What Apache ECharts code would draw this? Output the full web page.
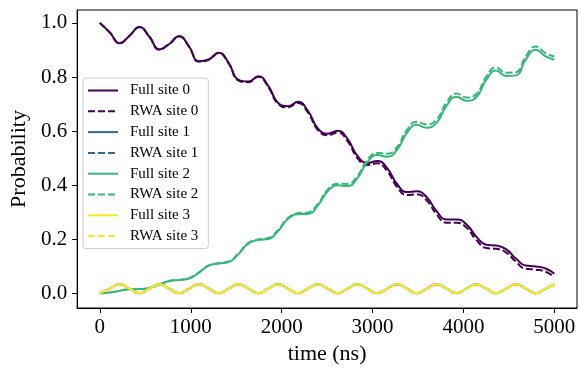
<!DOCTYPE html>
<html><head><meta charset="utf-8">
<script src="https://cdn.jsdelivr.net/npm/echarts@6/dist/echarts.min.js"></script>
<style>html,body{margin:0;padding:0;background:#fff}#c{width:580px;height:370px}</style>
</head><body><div id="c"></div>
<script>
const times = [0,109,218,327,436,545,654,763,872,981,1090,1199,1308,1417,1526,1635,1744,1853,1962,2071,2180,2289,2398,2507,2616,2725,2834,2943,3052,3161,3270,3379,3488,3597,3706,3815,3924,4033,4142,4251,4360,4469,4578,4687,4796,4905,5000];

const fullSite0 = [1.000,0.965,0.925,0.953,0.985,0.949,0.902,0.922,0.951,0.913,0.858,0.865,0.890,0.852,0.789,0.783,0.803,0.767,0.704,0.692,0.708,0.675,0.610,0.590,0.601,0.571,0.508,0.482,0.489,0.463,0.404,0.374,0.377,0.355,0.303,0.273,0.273,0.255,0.209,0.179,0.176,0.163,0.128,0.102,0.099,0.091,0.072];
const rwaSite0 = [1.000,0.965,0.925,0.953,0.985,0.949,0.902,0.922,0.951,0.912,0.857,0.864,0.889,0.850,0.787,0.781,0.801,0.763,0.700,0.688,0.704,0.669,0.604,0.584,0.595,0.563,0.500,0.474,0.481,0.452,0.393,0.363,0.366,0.343,0.291,0.261,0.261,0.243,0.197,0.167,0.164,0.151,0.116,0.090,0.087,0.079,0.060];

const fullSite1 = [0,0.0165,0.033,0.0165,0,0.0165,0.033,0.0165,0,0.0165,0.033,0.0165,0,0.0165,0.033,0.0165,0,0.0165,0.033,0.0165,0,0.0165,0.033,0.0165,0,0.0165,0.033,0.0165,0,0.0165,0.033,0.0165,0,0.0165,0.033,0.0165,0,0.0165,0.033,0.0165,0,0.0165,0.033,0.0165,0,0.0165,0.032];
const rwaSite1 = [0,0.0165,0.033,0.0165,0,0.0165,0.033,0.0165,0,0.0165,0.033,0.0165,0,0.0165,0.033,0.0165,0,0.0165,0.033,0.0165,0,0.0165,0.033,0.0165,0,0.0165,0.033,0.0165,0,0.0165,0.033,0.0165,0,0.0165,0.033,0.0165,0,0.0165,0.033,0.0165,0,0.0165,0.033,0.0165,0,0.0165,0.032];

const fullSite2 = [0.000,0.002,0.009,0.014,0.015,0.019,0.032,0.045,0.049,0.054,0.076,0.102,0.110,0.115,0.145,0.184,0.197,0.200,0.230,0.275,0.292,0.293,0.324,0.377,0.399,0.396,0.426,0.485,0.511,0.505,0.530,0.593,0.623,0.612,0.631,0.694,0.727,0.712,0.725,0.789,0.824,0.804,0.806,0.865,0.901,0.876,0.864];
const rwaSite2 = [0.000,0.002,0.009,0.014,0.015,0.019,0.032,0.045,0.049,0.055,0.077,0.103,0.111,0.117,0.147,0.186,0.199,0.204,0.234,0.279,0.296,0.299,0.330,0.383,0.405,0.404,0.434,0.493,0.519,0.516,0.541,0.604,0.634,0.624,0.643,0.706,0.739,0.724,0.737,0.801,0.836,0.816,0.818,0.877,0.913,0.888,0.876];

const fullSite3 = [0,0.0165,0.033,0.0165,0,0.0165,0.033,0.0165,0,0.0165,0.033,0.0165,0,0.0165,0.033,0.0165,0,0.0165,0.033,0.0165,0,0.0165,0.033,0.0165,0,0.0165,0.033,0.0165,0,0.0165,0.033,0.0165,0,0.0165,0.033,0.0165,0,0.0165,0.033,0.0165,0,0.0165,0.033,0.0165,0,0.0165,0.032];
const rwaSite3 = [0,0.0165,0.033,0.0165,0,0.0165,0.033,0.0165,0,0.0165,0.033,0.0165,0,0.0165,0.033,0.0165,0,0.0165,0.033,0.0165,0,0.0165,0.033,0.0165,0,0.0165,0.033,0.0165,0,0.0165,0.033,0.0165,0,0.0165,0.033,0.0165,0,0.0165,0.033,0.0165,0,0.0165,0.033,0.0165,0,0.0165,0.032];

const xTicks = [0,1000,2000,3000,4000,5000];
const yTicks = [0,0.2,0.4,0.6,0.8,1.0];
const seriesNames = ['Full site 0','RWA site 0','Full site 1','RWA site 1','Full site 2','RWA site 2','Full site 3','RWA site 3'];
const seriesValues = [fullSite0,rwaSite0,fullSite1,rwaSite1,fullSite2,rwaSite2,fullSite3,rwaSite3];
const siteColors = ['#440154','#31688e','#35b779','#fde725'];

const font = 'Liberation Serif';
function pairs(v){ return times.map((t,i)=>[t,v[i]]); }

const chart = echarts.init(document.getElementById('c'), null, {renderer:'canvas'});
const option = {
  animation:false,
  grid:{left:76,right:3,top:10,bottom:59,show:true,borderColor:'#000',borderWidth:1,backgroundColor:'transparent'},
  xAxis:{type:'value',min:-250,max:5250,name:'time (ns)',nameLocation:'middle',nameGap:35,
    nameTextStyle:{fontFamily:font,fontSize:22,color:'#000'},
    axisLine:{show:true,onZero:false,lineStyle:{color:'#000',width:1}},
    axisTick:{show:true,length:5,customValues:xTicks,lineStyle:{color:'#000'}},
    axisLabel:{customValues:xTicks,fontFamily:font,fontSize:21,color:'#000',margin:9,formatter:v=>String(v)},
    splitLine:{show:false}},
  yAxis:{type:'value',min:-0.055,max:1.048,name:'Probability',nameLocation:'middle',nameGap:46,
    nameTextStyle:{fontFamily:font,fontSize:22,color:'#000'},
    axisLine:{show:true,onZero:false,lineStyle:{color:'#000',width:1}},
    axisTick:{show:true,length:5,customValues:yTicks,lineStyle:{color:'#000'}},
    axisLabel:{customValues:yTicks,fontFamily:font,fontSize:21,color:'#000',margin:10,formatter:v=>v.toFixed(1)},
    splitLine:{show:false}},
  legend:{orient:'vertical',left:83,top:78,itemWidth:30,itemHeight:14,itemGap:5.8,
    padding:[5,10,5,4],backgroundColor:'rgba(255,255,255,0.8)',borderColor:'#cccccc',borderWidth:1,borderRadius:3,
    itemStyle:{color:'rgba(0,0,0,0)',borderColor:'rgba(0,0,0,0)',borderWidth:0,opacity:0},
    lineStyle:{width:2},
    textStyle:{fontFamily:font,fontSize:15,color:'#000',padding:[0,0,0,7]},
    data:seriesNames},
  series:seriesNames.map((n,i)=>({
    type:'line',name:n,data:pairs(seriesValues[i]),showSymbol:false,symbol:'none',smooth:0.5,
    lineStyle:{color:siteColors[Math.floor(i/2)],width:2,type:(i%2===0)?'solid':[7,3]},
    itemStyle:{color:siteColors[Math.floor(i/2)]}
  }))
};
chart.setOption(option);
</script></body></html>
